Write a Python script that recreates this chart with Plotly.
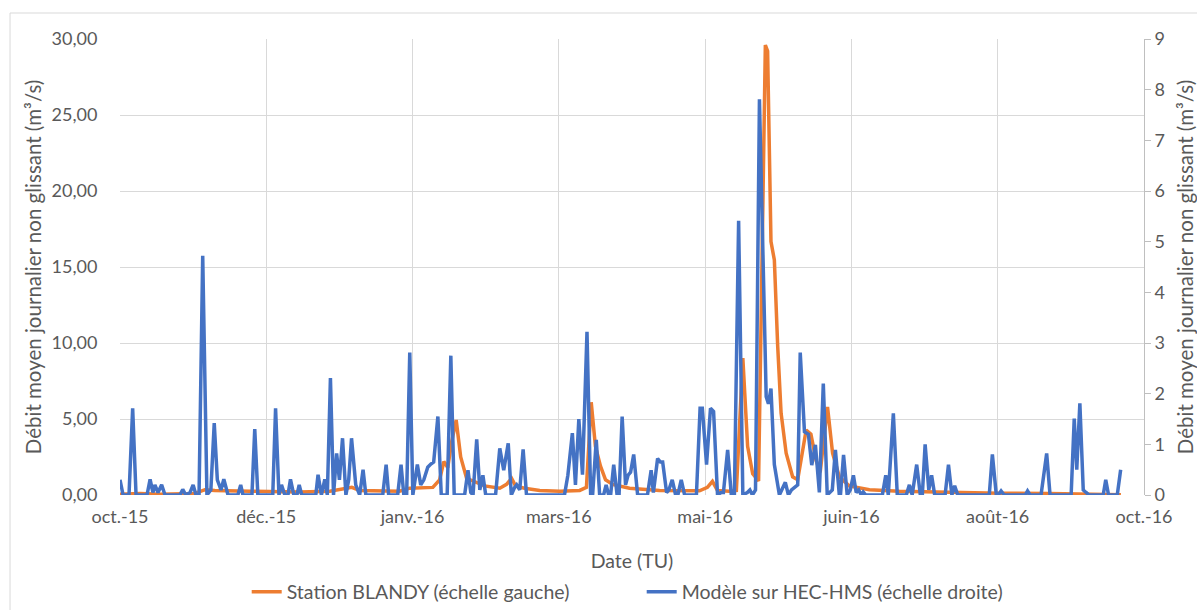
import plotly.graph_objects as go

# Days since the first date of the axis (oct.-15)
blue_jour = [0, 1.1, 3.2, 4.5, 5.7, 9.6, 10.7, 11.7, 12.4, 13.5, 14.8, 16.0, 21.3, 22.3, 23.4, 24.9,
             26.0, 27.0, 28.1, 29.4, 30.9, 32.3, 33.5, 34.6, 35.9, 36.9, 38.4, 41.9, 42.9, 43.7,
             46.9, 47.9, 49.0, 54.3, 55.3, 56.5, 57.4, 58.6, 59.7, 60.6, 61.8, 62.9, 63.7, 64.6,
             69.6, 70.4, 71.6, 72.8, 73.7, 74.8, 75.9, 77.0, 78.0, 79.1, 80.3, 81.3, 82.3, 83.8,
             85.2, 86.4, 87.4, 93.4, 94.6, 95.5, 98.7, 99.9, 100.9, 101.9, 103.0, 104.1, 105.7,
             106.9, 108.0, 109.4, 110.5, 111.5, 113.0, 114.2, 116.3, 117.6, 118.8, 122.5, 123.7,
             124.7, 125.5, 126.8, 127.9, 129.0, 130.0, 133.5, 135.0, 136.4, 138.0, 139.1, 140.3,
             141.0, 142.1, 143.3, 144.5, 158.0, 159.2, 160.8, 161.9, 163.1, 164.4, 166.0, 167.3,
             168.0, 169.3, 170.5, 171.9, 172.8, 173.7, 174.4, 175.5, 176.7, 177.4, 178.5, 179.7,
             180.6, 181.5, 182.6, 184.0, 187.5, 188.8, 189.6, 191.1, 192.1, 192.9, 194.3, 195.1,
             196.3, 197.5, 198.3, 199.5, 200.7, 204.9, 206.2, 207.0, 208.5, 209.9, 211.0, 212.4,
             213.7, 214.5, 216.0, 217.3, 218.4, 219.9, 221.4, 223.0, 223.9, 224.8, 225.9, 227.3,
             229.7, 230.5, 231.4, 232.6, 234.4, 236.5, 237.6, 238.7, 239.7, 240.9, 241.8, 243.3,
             244.7, 245.9, 247.2, 248.6, 250.0, 251.4, 253.2, 254.3, 255.7, 256.1, 257.2, 258.5,
             259.6, 260.7, 261.7, 262.6, 263.5, 264.2, 265.1, 271.0, 272.2, 273.1, 274.9, 276.3,
             279.5, 280.6, 281.6, 283.2, 284.5, 285.2, 286.2, 287.5, 288.5, 289.6, 293.3, 294.5,
             295.7, 296.7, 297.8, 309.0, 310.1, 311.5, 312.2, 313.2, 314.3, 321.8, 322.6, 323.5,
             327.4, 328.5, 329.4, 330.6, 338.1, 339.2, 340.1, 341.2, 342.4, 343.4, 344.5, 349.5,
             350.4, 351.4, 354.5, 355.7]
blue_debit = [0.3, 0, 0, 1.71, 0, 0, 0.31, 0.05, 0.2, 0.05, 0.2, 0, 0, 0.11, 0, 0.05,
              0.2, 0, 0, 4.72, 0, 0.1, 1.42, 0.3, 0.1, 0.31, 0, 0, 0.2, 0,
              0, 1.3, 0, 0, 1.71, 0, 0.2, 0, 0, 0.31, 0, 0, 0.2, 0,
              0, 0.4, 0, 0.31, 0, 2.31, 0, 0.82, 0.3, 1.12, 0, 0.3, 1.12, 0.2,
              0, 0.5, 0, 0, 0.6, 0, 0, 0.6, 0, 0, 2.81, 0, 0.6,
              0.2, 0.3, 0.55, 0.61, 0.65, 1.55, 0, 0, 2.75, 0, 0, 0.49,
              0.05, 0, 1.1, 0.1, 0.39, 0, 0, 0.92, 0.49, 1.02, 0, 0.15,
              0.2, 0.1, 0.9, 0, 0, 0.39, 1.22, 0.2, 1.5, 0.4, 3.22, 0,
              0, 1.09, 0, 0, 0.2, 0, 0, 0.6, 0, 0, 1.55, 0.2,
              0.39, 0.45, 0.8, 0, 0, 0.49, 0.05, 0.72, 0.65, 0.65, 0.05, 0.1,
              0.3, 0, 0, 0.3, 0, 0, 1.71, 1.71, 0.6, 1.71, 1.65, 0,
              0.05, 0.05, 0.89, 0, 0, 5.41, 0, 0.05, 0.1, 0, 0.1, 7.81,
              1.94, 1.8, 2.1, 0.6, 0, 0.25, 0, 0.1, 0.15, 0.2, 2.81, 1.25,
              1.2, 0.59, 0.99, 0.05, 2.2, 0, 0.1, 0.89, 0, 0, 0.79, 0,
              0.1, 0.39, 0.05, 0.1, 0, 0.06, 0, 0, 0.39, 0, 1.61, 0,
              0, 0.2, 0, 0.6, 0, 0, 1.0, 0.1, 0.39, 0, 0, 0.6,
              0, 0.18, 0, 0, 0.8, 0, 0, 0.08, 0, 0, 0.08, 0,
              0, 0.5, 0.82, 0, 0, 1.51, 0.5, 1.81, 0.1, 0.05, 0, 0,
              0.3, 0, 0, 0.5]

orange_jour = [0, 7.1, 14.2, 21.3, 26.6, 30.2, 33.7, 46.2, 63.9, 74.6, 79.9, 82.4, 85.2, 99.4,
               103.0, 111.2, 113.6, 115.1, 116.5, 117.9, 119.5, 121.1, 123.2, 126.1, 129.6,
               135.0, 137.4, 139.2, 140.6, 143.8, 149.2, 156.3, 163.4, 165.8, 167.5, 169.0,
               170.8, 172.6, 175.1, 181.1, 191.8, 206.0, 208.8, 210.6, 212.4, 216.6, 219.1,
               221.4, 223.1, 224.9, 227.0, 229.4, 230.2, 231.4, 232.6, 233.8, 235.0, 236.8,
               239.1, 240.9, 242.1, 243.9, 245.6, 247.4, 248.9, 251.5, 253.3, 255.7, 259.2,
               266.4, 277.0, 294.8, 312.5, 330.3, 340.9, 348.0, 355.8]
orange_debit = [0.05, 0.1, 0.05, 0.05, 0.1, 0.35, 0.3, 0.25, 0.2, 0.25, 0.4, 0.5, 0.3, 0.25,
                0.45, 0.5, 1.0, 2.2, 1.8, 3.5, 4.93, 2.5, 1.1, 0.9, 0.6,
                0.45, 0.7, 1.1, 0.6, 0.45, 0.3, 0.25, 0.3, 0.5, 6.1, 3.2,
                1.9, 1.0, 0.7, 0.45, 0.3, 0.28, 0.5, 0.9, 0.3, 0.25, 0.3,
                9.0, 3.2, 1.4, 0.92, 29.6, 29.2, 16.67, 15.46, 9.76, 5.38, 2.75,
                1.2, 1.0, 2.3, 4.28, 4.0, 2.3, 1.5, 5.8, 2.75, 1.2, 0.6,
                0.35, 0.25, 0.18, 0.12, 0.1, 0.08, 0.05, 0.02]

tick_jours = [0, 52, 104, 156, 208, 260, 312, 364]
tick_labels = ["oct.-15", "déc.-15", "janv.-16", "mars-16", "mai-16", "juin-16", "août-16", "oct.-16"]
left_ticks = [0, 5, 10, 15, 20, 25, 30]
right_ticks = [0, 1, 2, 3, 4, 5, 6, 7, 8, 9]

FONT = "Lato"
GREY = "#595959"
GRID = "#d9d9d9"
CLEAR = "rgba(0,0,0,0)"

fig = go.Figure()
fig.add_trace(go.Scatter(x=orange_jour, y=orange_debit, mode="lines",
                         name="Station BLANDY (échelle gauche)",
                         line=dict(color="#ED7D31", width=3.5), yaxis="y"))
fig.add_trace(go.Scatter(x=blue_jour, y=blue_debit, mode="lines",
                         name="Modèle sur HEC-HMS (échelle droite)",
                         line=dict(color="#4472C4", width=3.5), yaxis="y2"))

title_txt = "Débit moyen journalier non glissant (m³/s)"

fig.update_layout(
    width=1197, height=610,
    margin=dict(l=120, r=53, t=39, b=115, autoexpand=False),
    paper_bgcolor="white", plot_bgcolor="white",
    font=dict(family=FONT, size=18, color=GREY),
    separators=", ",
    showlegend=True,
    legend=dict(orientation="h", xref="container", yref="container",
                x=0.2061, xanchor="left", y=0.0295, yanchor="middle",
                font=dict(size=19.5, color=GREY), entrywidth=350, entrywidthmode="pixels",
                bgcolor=CLEAR),
    xaxis=dict(range=[0, 364], tickmode="array", tickvals=tick_jours, ticktext=tick_labels,
               showgrid=True, gridcolor=GRID, gridwidth=1, zeroline=False, showline=False,
               ticks="outside", ticklen=5, tickcolor=CLEAR, automargin=False,
               tickfont=dict(size=18, color=GREY),
               title=dict(text="Date (TU)", font=dict(size=19.5, color=GREY), standoff=31)),
    yaxis=dict(range=[0, 30], tickmode="array", tickvals=left_ticks, tickformat=".2f",
               showgrid=True, gridcolor=GRID, gridwidth=1, zeroline=False, showline=False,
               ticks="outside", ticklen=18, tickcolor=CLEAR, automargin=False,
               tickfont=dict(size=18, color=GREY),
               title=dict(text=title_txt, font=dict(size=20.5, color=GREY), standoff=4)),
    yaxis2=dict(range=[0, 9], overlaying="y", side="right", tickmode="array", tickvals=right_ticks,
                showgrid=False, zeroline=False, showline=True, linecolor="#bfbfbf", linewidth=1,
                ticks="outside", ticklen=6, tickcolor="#bfbfbf", automargin=False,
                tickfont=dict(size=18, color=GREY),
                title=dict(text=title_txt, font=dict(size=20.5, color=GREY), standoff=19)),
    shapes=[dict(type="rect", xref="paper", yref="paper",
                 x0=-0.1074, x1=1.07, y0=-0.27, y1=1.057,
                 line=dict(color="#d9d9d9", width=1), fillcolor=CLEAR, layer="below")],
)

fig.write_html("out.html")
